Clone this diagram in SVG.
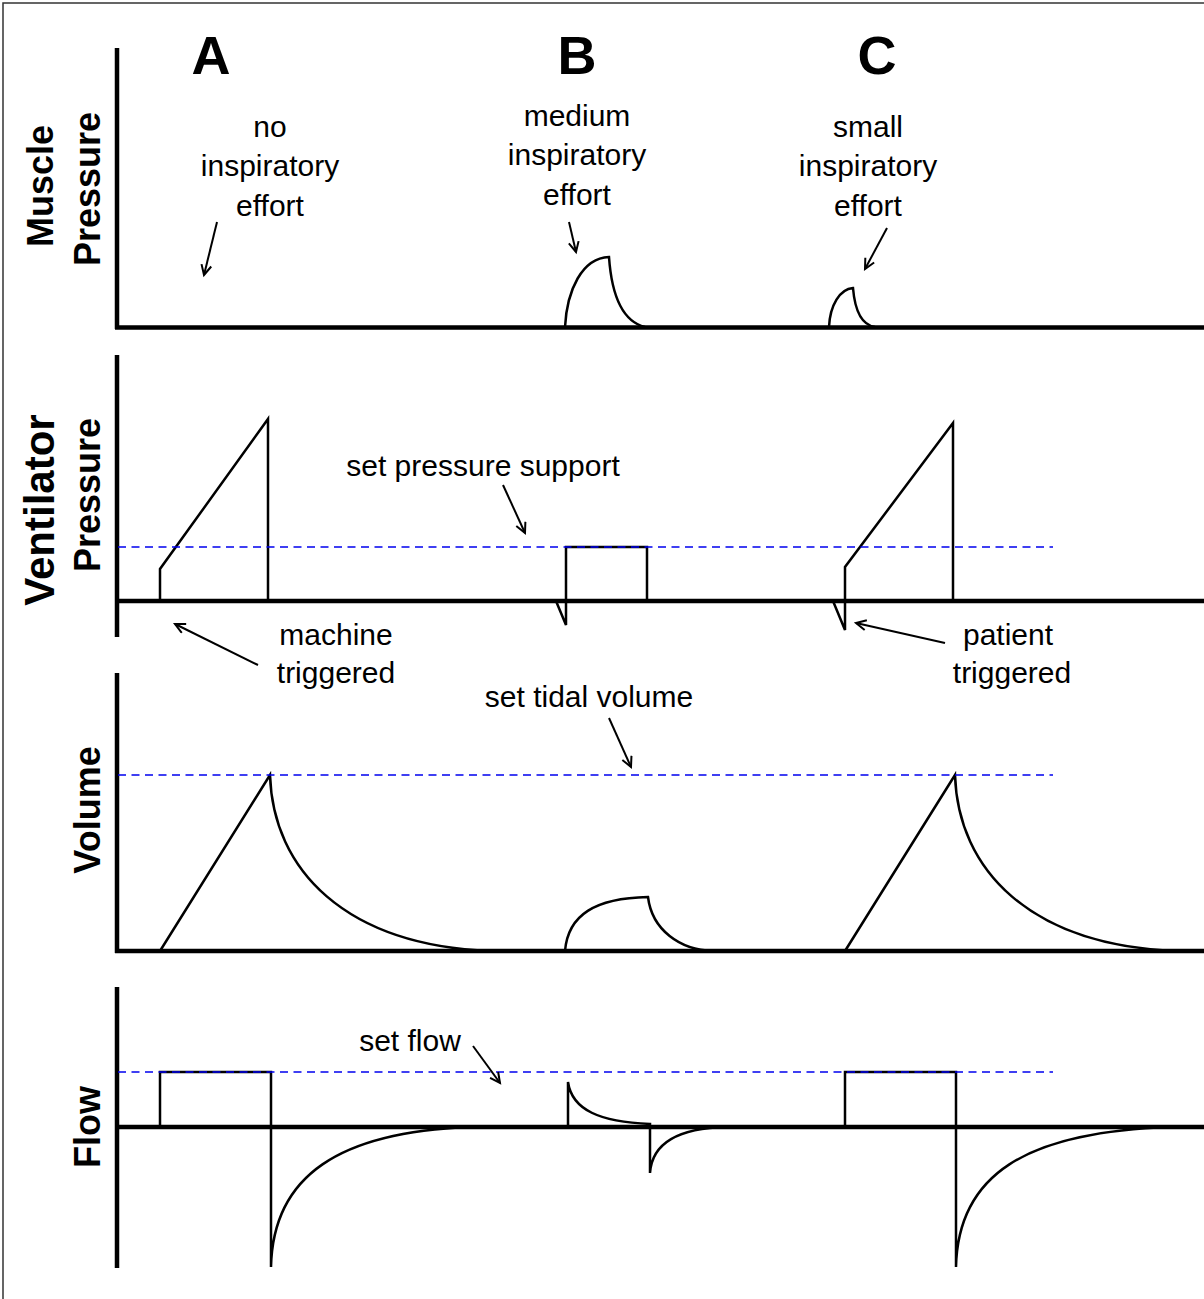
<svg xmlns="http://www.w3.org/2000/svg" width="1204" height="1299" viewBox="0 0 1204 1299">
<style>
text{font-family:"Liberation Sans",Arial,sans-serif;fill:#000}
.lbl{font-size:30px;text-anchor:middle}
.big{font-size:54px;font-weight:bold;text-anchor:middle}
.ax{font-size:36px;font-weight:bold;text-anchor:middle}
.axis{stroke:#000;stroke-width:4.5;fill:none}
.wave{stroke:#000;stroke-width:2.5;fill:none;stroke-linejoin:miter}
.set{stroke:#0000ee;stroke-width:1.4;stroke-dasharray:8,5.5;fill:none}
.arr{stroke:#000;stroke-width:2;fill:none;marker-end:url(#ah)}
</style>
<defs>
<marker id="ah" markerWidth="14" markerHeight="14" refX="11" refY="6" orient="auto" markerUnits="userSpaceOnUse">
<path d="M1,1 L11,6 L1,11" fill="none" stroke="#000" stroke-width="2"/>
</marker>
</defs>
<rect width="1204" height="1299" fill="#fff"/>
<path d="M3,1299 V3 H1204" stroke="#333" stroke-width="1.5" fill="none"/>

<g id="panel-muscle">
<path class="axis" d="M117,48 V329 M115,327.5 H1204"/>
<text class="ax" transform="translate(53,186) rotate(-90)">Muscle</text>
<text class="ax" transform="translate(100,189) rotate(-90)">Pressure</text>
<text class="big" x="211" y="74">A</text>
<text class="big" x="577" y="74">B</text>
<text class="big" x="877" y="74">C</text>
<path class="wave" d="M565,327 C567,290 582,258 609,257 C612,300 625,322 645,327"/>
<path class="wave" d="M829,327 C830,305 840,289 853,288 C855,312 862,325 875,327"/>
</g>

<g id="label-no-effort">
<text class="lbl" x="270" y="137">no</text>
<text class="lbl" x="270" y="176">inspiratory</text>
<text class="lbl" x="270" y="216">effort</text>
</g>
<g id="label-medium-effort">
<text class="lbl" x="577" y="126">medium</text>
<text class="lbl" x="577" y="165">inspiratory</text>
<text class="lbl" x="577" y="205">effort</text>
</g>
<g id="label-small-effort">
<text class="lbl" x="868" y="137">small</text>
<text class="lbl" x="868" y="176">inspiratory</text>
<text class="lbl" x="868" y="216">effort</text>
</g>

<g id="panel-ventilator">
<path class="axis" d="M117,355 V637 M115,601 H1204"/>
<text class="ax" style="font-size:42px" transform="translate(54,510) rotate(-90)">Ventilator</text>
<text class="ax" transform="translate(100,495) rotate(-90)">Pressure</text>
<path class="wave" stroke-width="3" d="M160,601 V569 L268,419 V601"/>
<path class="wave" d="M556,601 L566,625 V547 H647 V601"/>
<path class="wave" stroke-width="3" d="M833,601 L845,630 V567 L953,423 V601"/>
<path class="set" d="M118,547 H1053"/>
</g>
<g id="label-set-pressure">
<text class="lbl" x="483" y="476">set pressure support</text>
</g>
<g id="label-machine-triggered">
<text class="lbl" x="336" y="645">machine</text>
<text class="lbl" x="336" y="683">triggered</text>
</g>
<g id="label-patient-triggered">
<text class="lbl" x="1008" y="645">patient</text>
<text class="lbl" x="1012" y="683">triggered</text>
</g>

<g id="panel-volume">
<path class="axis" d="M117,673 V953 M115,951 H1204"/>
<text class="ax" transform="translate(100,810) rotate(-90)">Volume</text>
<path class="wave" d="M160,951 L270,775 C273,870 345,945 490,951"/>
<path class="wave" d="M565,951 C568,915 595,898 648,897 C652,930 680,950 713,951"/>
<path class="wave" d="M845,951 L955,775 C958,870 1030,945 1175,951"/>
<path class="set" d="M118,775 H1053"/>
</g>
<g id="label-set-tidal">
<text class="lbl" x="589" y="707">set tidal volume</text>
</g>

<g id="panel-flow">
<path class="axis" d="M117,987 V1268 M115,1127 H1204"/>
<text class="ax" transform="translate(100,1127) rotate(-90)">Flow</text>
<path class="wave" d="M160,1127 V1072 H271 V1267 C273,1175 340,1132 470,1127"/>
<path class="wave" d="M568,1127 V1082 C572,1110 600,1122 650,1124 V1173 C652,1145 675,1128 727,1127"/>
<path class="wave" d="M845,1127 V1072 H956 V1267 C958,1175 1025,1132 1170,1127"/>
<path class="set" d="M118,1072 H1053"/>
</g>
<g id="label-set-flow">
<text class="lbl" x="410" y="1051">set flow</text>
</g>

<g id="connectors">
<path class="arr" d="M217,222 L204,275"/>
<path class="arr" d="M569,222 L576,252"/>
<path class="arr" d="M887,228 L865,269"/>
<path class="arr" d="M503,485 L525,533"/>
<path class="arr" d="M258,665 L175,624"/>
<path class="arr" d="M945,643 L856,623"/>
<path class="arr" d="M609,718 L631,767"/>
<path class="arr" d="M473,1046 L500,1083"/>
</g>
</svg>
